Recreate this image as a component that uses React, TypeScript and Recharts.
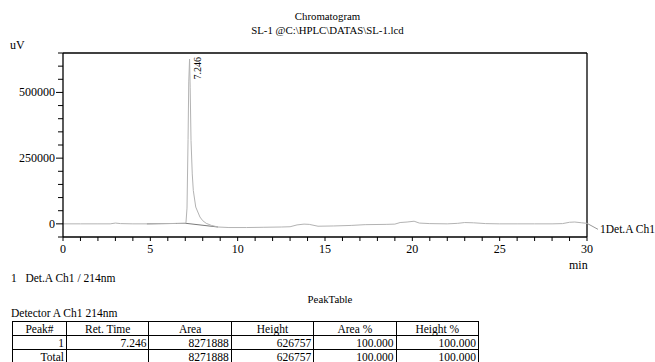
import { LabelList, Line, LineChart, ReferenceLine, XAxis, YAxis } from "recharts";

const chromTimes = [
  0, 1, 2, 2.7, 3.0, 3.3, 4.0, 4.8, 5.5, 6.5, 7.0, 7.04, 7.1, 7.16, 7.2, 7.246, 7.28, 7.33, 7.4, 7.46,
  7.6, 7.84, 8.0, 8.2, 8.5, 8.87, 9.5, 10.5, 11.5, 12.5, 13.0, 13.4, 13.8, 14.1, 14.6, 15.5, 16.5, 17.3,
  18.5, 19.0, 19.3, 19.7, 20.1, 20.4, 21.0, 22.0, 22.6, 23.0, 23.5, 24.2, 25, 26, 27, 28, 28.6, 29.0,
  29.3, 29.7, 30,
];
const chromValues = [
  0, 0, 0, 0, 3000, 1000, 0, 0, 1000, 1500, 2000, 4000, 60000, 320000, 540000, 626757, 520000, 317000,
  190000, 127000, 64000, 26000, 12000, 2000, -6000, -12000, -14000, -14000, -13000, -12000, -11000, -4000,
  -1000, -2000, -9000, -8000, -6000, -3000, -2000, -1000, 5000, 7000, 10000, 3000, 1000, 0, 2000, 5000,
  4000, 1000, 0, 0, 0, 0, 1000, 6000, 7000, 4000, 2000,
];
const baselineTimes = [4.8, 7.04, 8.87];
const baselineValues = [0, 2000, -12000];

const peakRetTime = 7.246;
const xTicks = Array.from({ length: 31 }, (_, i) => i);
const yTicks = Array.from({ length: 15 }, (_, i) => -50000 + i * 50000);

const tableHeaders = ["Peak#", "Ret. Time", "Area", "Height", "Area %", "Height %"];
const tableRows = [
  ["1", "7.246", "8271888", "626757", "100.000", "100.000"],
  ["Total", "", "8271888", "626757", "100.000", "100.000"],
];

const chromData = chromTimes.map((t, i) => ({ t, v: chromValues[i] }));
const baselineData = baselineTimes.map((t, i) => ({ t, v: baselineValues[i] }));

const font = "'Liberation Serif', 'Times New Roman', serif";

function YTick(props: any) {
  const { x, y, payload } = props;
  const major = payload.value >= 0 && payload.value % 250000 === 0;
  const len = major ? 7 : 5;
  return (
    <g>
      <line x1={x - len} x2={x} y1={y} y2={y} stroke="#000" />
      {major && (
        <text x={x - len - 1} y={y} dy={4} textAnchor="end" fontSize={12} fill="#000" fontFamily={font}>
          {payload.value}
        </text>
      )}
    </g>
  );
}

function PeakLabel(props: any) {
  const { x, y, index } = props;
  if (chromTimes[index] === peakRetTime) {
    return (
      <text
        x={x + 11}
        y={y - 2}
        textAnchor="end"
        fontSize={10}
        fill="#000"
        fontFamily={font}
        transform={`rotate(-90 ${x + 11} ${y - 2})`}
      >
        {peakRetTime.toFixed(3)}
      </text>
    );
  }
  if (index === chromTimes.length - 1) {
    return (
      <g>
        <line x1={x} y1={y} x2={x + 11} y2={y + 6} stroke="#999" />
        <text x={x + 13} y={y + 10} fontSize={11.5} fill="#000" fontFamily={font}>
          1Det.A Ch1
        </text>
      </g>
    );
  }
  return null;
}

export default function App() {
  return (
    <div
      style={{
        position: "absolute",
        left: 0,
        top: 0,
        width: 655,
        height: 362,
        overflow: "hidden",
        background: "#fff",
        fontFamily: font,
        color: "#000",
      }}
    >
      <div style={{ position: "absolute", top: 9, left: 0, width: 655, textAlign: "center", fontSize: 10.8, lineHeight: "14px" }}>
        Chromatogram
        <br />
        SL-1 @C:\HPLC\DATAS\SL-1.lcd
      </div>
      <div style={{ position: "absolute", top: 38, left: 10, fontSize: 12 }}>uV</div>
      <div style={{ position: "absolute", top: 258, left: 569, fontSize: 12 }}>min</div>

      <LineChart width={655} height={362} margin={{ top: 53, right: 68, bottom: 95, left: 3 }}>
        <XAxis
          type="number"
          dataKey="t"
          domain={[0, 30]}
          ticks={xTicks}
          interval={0}
          allowDataOverflow
          height={30}
          tickSize={4}
          tickMargin={3}
          axisLine={{ stroke: "#000", strokeWidth: 1.3 }}
          tickLine={{ stroke: "#000" }}
          tickFormatter={(v: number) => (v % 5 === 0 ? String(v) : "")}
          tick={{ fill: "#000", fontSize: 12, fontFamily: font }}
        />
        <YAxis
          type="number"
          domain={[-50000, 650000]}
          ticks={yTicks}
          interval={0}
          allowDataOverflow
          width={60}
          tickSize={0}
          tickMargin={0}
          tickLine={false}
          axisLine={{ stroke: "#000", strokeWidth: 1.3 }}
          tick={<YTick />}
        />
        <ReferenceLine y={650000} stroke="#000" strokeWidth={1.3} ifOverflow="extendDomain" />
        <ReferenceLine x={30} stroke="#000" strokeWidth={1.3} />
        <Line
          data={baselineData}
          dataKey="v"
          type="linear"
          stroke="#7a7a7a"
          strokeWidth={1}
          dot={false}
          isAnimationActive={false}
        />
        <Line
          data={chromData}
          dataKey="v"
          type="linear"
          stroke="#b3b3b3"
          strokeWidth={1}
          dot={false}
          isAnimationActive={false}
        >
          <LabelList dataKey="v" content={<PeakLabel />} />
        </Line>
      </LineChart>

      <div style={{ position: "absolute", top: 272, left: 11, fontSize: 11.5, whiteSpace: "pre" }}>
        {"1   Det.A Ch1 / 214nm"}
      </div>
      <div style={{ position: "absolute", top: 293, left: 0, width: 660, textAlign: "center", fontSize: 10.8 }}>
        PeakTable
      </div>
      <div style={{ position: "absolute", top: 307, left: 11, fontSize: 11.5 }}>Detector A Ch1 214nm</div>
      <table
        style={{
          position: "absolute",
          top: 321,
          left: 12,
          borderCollapse: "collapse",
          fontSize: 11.5,
          fontFamily: font,
          tableLayout: "fixed",
          width: 466,
        }}
      >
        <colgroup>
          <col style={{ width: 54 }} />
          {tableHeaders.slice(1).map((h) => (
            <col key={h} style={{ width: 82.4 }} />
          ))}
        </colgroup>
        <thead>
          <tr style={{ height: 14 }}>
            {tableHeaders.map((h) => (
              <th key={h} style={{ border: "1px solid #000", fontWeight: "normal", padding: 0, lineHeight: "12px", textAlign: "center" }}>
                {h}
              </th>
            ))}
          </tr>
        </thead>
        <tbody>
          {tableRows.map((row, ri) => (
            <tr key={ri} style={{ height: 14 }}>
              {row.map((c, ci) => (
                <td
                  key={ci}
                  style={{ border: "1px solid #000", padding: "0 2px 0 0", lineHeight: "12px", textAlign: "right" }}
                >
                  {c}
                </td>
              ))}
            </tr>
          ))}
        </tbody>
      </table>
    </div>
  );
}
